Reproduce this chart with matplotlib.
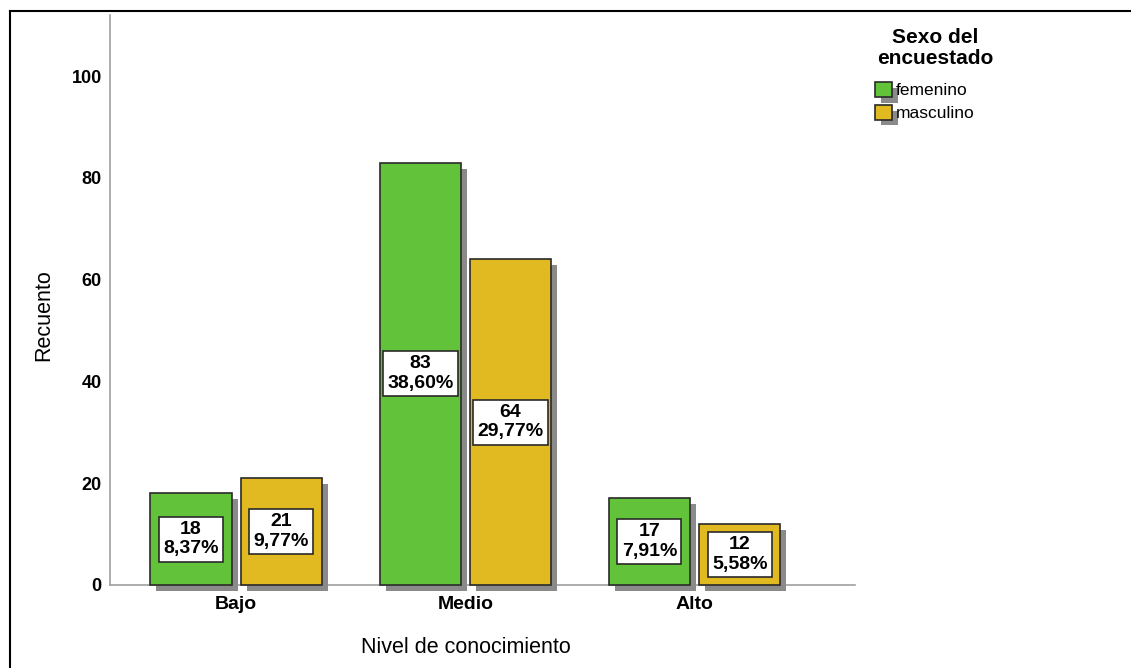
import numpy as np
import matplotlib.pyplot as plt
import matplotlib.patheffects as pe
from matplotlib.lines import Line2D

plt.rcParams['font.family'] = ['Liberation Sans', 'DejaVu Sans']

# Datos
categorias = ['Bajo', 'Medio', 'Alto']
femenino = [18, 83, 17]
masculino = [21, 64, 12]
pct_femenino = ['8,37%', '38,60%', '7,91%']
pct_masculino = ['9,77%', '29,77%', '5,58%']
series = ['femenino', 'masculino']
colores = ['#62c23a', '#e1b921']

fig = plt.figure(figsize=(11.31, 6.68), dpi=100)
ax = fig.add_axes([0.0973, 0.1243, 0.6587, 0.8532])

# marco de la figura (solo arriba e izquierda)
fig.add_artist(Line2D([0.0088, 1.0], [0.9835, 0.9835], color='black', lw=1.5, transform=fig.transFigure))
fig.add_artist(Line2D([0.0088, 0.0088], [0.0, 0.9835], color='black', lw=1.5, transform=fig.transFigure))

x = np.arange(len(categorias))
ancho = 0.354
desp = 0.197
sombra = [pe.SimplePatchShadow(offset=(4.3, -4.3), shadow_rgbFace='#8a8a8a', alpha=1), pe.Normal()]

for valores, pcts, color, nombre, signo in [(femenino, pct_femenino, colores[0], series[0], -1),
                                            (masculino, pct_masculino, colores[1], series[1], 1)]:
    barras = ax.bar(x + signo * desp, valores, ancho, color=color, edgecolor='#2a2a2a',
                    linewidth=1.2, label=nombre, zorder=3, clip_on=False)
    for b in barras:
        b.set_path_effects(sombra)
    for xi, v, p in zip(x + signo * desp, valores, pcts):
        ax.text(xi, v / 2, f'{v}\n{p}', ha='center', va='center', fontsize=14,
                fontweight='semibold', linespacing=1.2, zorder=5,
                bbox=dict(boxstyle='square,pad=0.22', facecolor='white', edgecolor='#2a2a2a', linewidth=1.2))

ax.set_xlim(-0.55, 2.70)
ax.set_ylim(0, 112.0)
ax.set_yticks([0, 20, 40, 60, 80, 100])
ax.set_xticks(x)
ax.set_xticklabels(categorias, fontsize=14, fontweight='bold')
ax.tick_params(axis='y', labelsize=13, length=0, pad=6)
ax.tick_params(axis='x', length=0, pad=8)
for lab in ax.get_yticklabels():
    lab.set_fontweight('bold')

for s in ['top', 'right']:
    ax.spines[s].set_visible(False)
ax.spines['left'].set_color('#a0a0a0')
ax.spines['bottom'].set_color('#a0a0a0')
ax.spines['left'].set_linewidth(1.2)
ax.spines['bottom'].set_linewidth(1.2)

ax.set_ylabel('Recuento', fontsize=15.5)
ax.yaxis.set_label_coords(-0.089, 0.474)
ax.yaxis.label.set_va('center')
ax.set_xlabel('Nivel de conocimiento', fontsize=15.5)
ax.xaxis.set_label_coords(0.478, -0.1105)
ax.xaxis.label.set_va('center')

# leyenda
fig.text(935 / 1131, 1 - 48 / 668, 'Sexo del\nencuestado', ha='center', va='center',
         fontsize=15, fontweight='bold', linespacing=1.12)
leg = ax.legend(loc='upper left', bbox_to_anchor=(875 / 1131, 1 - 82 / 668),
                bbox_transform=fig.transFigure, frameon=False, fontsize=12.5,
                handlelength=1.0, handleheight=0.95, handletextpad=0.2, labelspacing=0.35,
                borderaxespad=0, borderpad=0)

fig.savefig('out.png', dpi=100)
